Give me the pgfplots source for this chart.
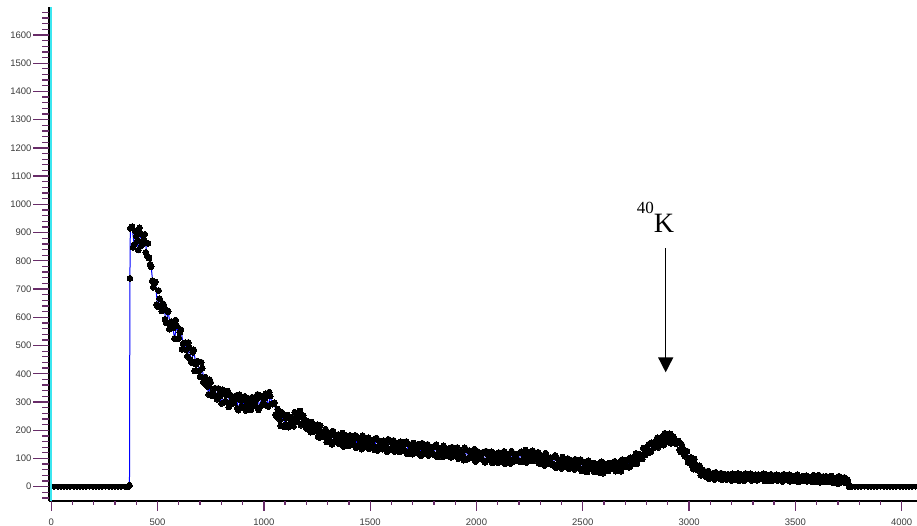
\documentclass[border=0pt]{standalone}
\usepackage{pgfplots}
\pgfplotsset{compat=1.18}
\usepackage{fontspec}
\setmainfont{Liberation Sans}
\newfontfamily\timesfont{Liberation Serif}
\usetikzlibrary{arrows.meta}
\definecolor{tickpurple}{RGB}{104,44,104}
\definecolor{axcyan}{RGB}{60,230,240}
\definecolor{lblgray}{RGB}{60,60,60}
\pgfplotstableread{
x y
0 0
15 0
30 0
45 0
60 0
75 0
90 0
105 0
120 0
135 0
150 0
165 0
180 0
195 0
210 0
225 0
240 0
255 0
270 0
285 0
300 0
315 0
330 0
345 0
360 0
}\zeroleft
\pgfplotstableread{
x y
3752 0
3765 0
3780 0
3795 0
3810 0
3825 0
3840 0
3855 0
3870 0
3885 0
3900 0
3915 0
3930 0
3945 0
3960 0
3975 0
3990 0
4005 0
4020 0
4035 0
4050 0
4065 0
4080 0
}\zeroright
\pgfplotstableread{
x y
360 0
368 5
370 738
372 915
380 921
390 858
400 888
410 838
420 896
430 864
440 894
450 818
460 810
470 779
480 706
490 725
500 638
510 666
520 622
530 643
540 580
550 620
560 570
570 573
580 525
590 571
600 526
610 556
620 506
630 510
640 462
650 493
660 439
670 485
680 433
690 444
700 389
710 420
720 366
730 373
740 327
750 369
760 332
770 349
780 310
790 328
800 295
810 334
820 303
830 339
840 291
850 313
860 297
870 323
880 271
890 308
900 281
910 320
920 292
930 312
940 273
950 301
960 286
970 327
980 281
990 317
1000 297
1010 329
1020 284
1030 321
1040 292
1050 297
1060 248
1070 258
1080 215
1090 255
1100 219
1110 254
1120 221
1130 240
1140 214
1150 255
1160 243
1170 268
1180 223
1190 237
1200 206
1210 228
1220 193
1230 218
1240 197
1250 219
1260 174
1270 196
1280 177
1290 204
1300 173
1310 190
1320 150
1330 182
1340 158
1350 185
1360 160
1370 190
1380 148
1390 166
1400 144
1410 174
1420 151
1430 182
1440 145
1450 165
1460 133
1470 170
1480 150
1490 173
1500 141
1510 161
1520 131
1530 172
1540 143
1550 162
1560 133
1570 151
1580 124
1590 161
1600 136
1610 164
1620 139
1630 153
1640 123
1650 147
1660 128
1670 160
1680 124
1690 145
1700 115
1710 147
1720 127
1730 151
1740 110
1750 136
1760 118
1770 150
1780 126
1790 140
1800 113
1810 149
1820 117
1830 133
1840 105
1850 139
1860 121
1870 135
1880 104
1890 130
1900 109
1910 139
1920 111
1930 121
1940 94
1950 133
1960 101
1970 124
1980 108
1990 133
2000 95
2010 116
2020 99
2030 122
2040 86
2050 117
2060 103
2070 124
2080 91
2090 107
2100 85
2110 116
2120 96
2130 125
2140 92
2150 113
2160 82
2170 119
2180 101
2190 116
2200 90
2210 124
2220 98
2230 130
2240 96
2250 117
2260 91
2270 120
2280 98
2290 122
2300 89
2310 102
2320 75
2330 110
2340 90
2350 103
2360 76
2370 111
2380 79
2390 93
2400 65
2410 97
2420 81
2430 100
2440 68
2450 89
2460 61
2470 82
2480 68
2490 96
2500 65
2510 86
2520 52
2530 77
2540 63
2550 84
2560 56
2570 76
2580 50
2590 88
2600 64
2610 79
2620 56
2630 74
2640 63
2650 90
2660 63
2670 86
2680 55
2690 82
2700 72
2710 95
2720 69
2730 97
2740 81
2750 118
2760 96
2770 114
2780 98
2790 134
2800 124
2810 150
2820 125
2830 153
2840 140
2850 173
2860 153
2870 175
2880 147
2890 180
2900 164
2910 187
2920 156
2930 169
2940 152
2950 162
2960 123
2970 137
2980 108
2990 126
3000 94
3010 103
3020 62
3030 78
3040 58
3050 74
3060 45
3070 55
3080 35
3090 55
3100 36
3110 47
3120 25
3130 42
3140 30
3150 48
3160 32
3170 44
3180 26
3190 38
3200 22
3210 44
3220 29
3230 47
3240 26
3250 37
3260 21
3270 40
3280 30
3290 46
3300 27
3310 42
3320 23
3330 38
3340 30
3350 46
3360 24
3370 37
3380 20
3390 41
3400 27
3410 42
3420 24
3430 35
3440 18
3450 38
3460 27
3470 43
3480 24
3490 38
3500 20
3510 43
3520 27
3530 35
3540 20
3550 39
3560 24
3570 33
3580 17
3590 37
3600 21
3610 41
3620 25
3630 36
3640 17
3650 32
3660 18
3670 38
3680 21
3690 31
3700 11
3710 33
3720 18
3730 33
3740 19
3748 10
3752 0
}\spectrum
\pgfplotstableread{
x y
385 848
395 905
405 871
415 917
425 854
435 877
445 830
455 862
465 788
475 729
485 719
495 645
505 695
515 637
525 649
535 593
545 624
555 558
565 585
575 562
585 590
595 524
605 547
615 487
625 509
635 485
645 511
655 450
665 476
675 410
685 442
695 411
705 441
715 370
725 388
735 355
745 379
755 322
765 346
775 319
785 348
795 320
805 344
815 299
825 324
835 282
845 324
855 296
865 308
875 278
885 326
895 285
905 309
915 270
925 298
935 278
945 317
955 290
965 309
975 272
985 322
995 290
1005 314
1015 286
1025 335
1035 293
1045 295
1055 256
1065 275
1075 237
1085 263
1095 213
1105 242
1115 211
1125 246
1135 232
1145 264
1155 229
1165 247
1175 218
1185 252
1195 218
1205 232
1215 202
1225 229
1235 196
1245 209
1255 179
1265 216
1275 184
1285 195
1295 158
1305 182
1315 161
1325 197
1335 161
1345 181
1355 151
1365 174
1375 142
1385 182
1395 162
1405 182
1415 150
1425 171
1435 138
1445 173
1455 151
1465 181
1475 142
1485 160
1495 135
1505 165
1515 143
1525 171
1535 128
1545 157
1555 136
1565 163
1575 143
1585 168
1595 131
1605 154
1615 124
1625 147
1635 131
1645 159
1655 133
1665 150
1675 116
1685 150
1695 127
1705 155
1715 121
1725 141
1735 115
1745 154
1755 128
1765 144
1775 110
1785 134
1795 118
1805 143
1815 105
1825 135
1835 119
1845 145
1855 109
1865 125
1875 109
1885 140
1895 112
1905 131
1915 99
1925 125
1935 113
1945 138
1955 97
1965 127
1975 102
1985 116
1995 89
2005 125
2015 102
2025 117
2035 92
2045 126
2055 95
2065 107
2075 84
2085 117
2095 99
2105 121
2115 90
2125 110
2135 81
2145 114
2155 95
2165 126
2175 89
2185 109
2195 94
2205 120
2215 88
2225 116
2235 86
2245 122
2255 103
2265 127
2275 94
2285 112
2295 82
2305 111
2315 94
2325 119
2335 80
2345 98
2355 81
2365 106
2375 67
2385 97
2395 79
2405 105
2415 71
2425 85
2435 64
2445 94
2455 71
2465 97
2475 74
2485 86
2495 56
2505 85
2515 62
2525 92
2535 65
2545 75
2555 52
2565 80
2575 60
2585 86
2595 48
2605 72
2615 59
2625 84
2635 67
2645 80
2655 55
2665 84
2675 63
2685 96
2695 71
2705 86
2715 69
2725 103
2735 83
2745 108
2755 81
2765 115
2775 109
2785 137
2795 113
2805 135
2815 121
2825 156
2835 140
2845 163
2855 139
2865 167
2875 153
2885 189
2895 161
2905 180
2915 154
2925 178
2935 154
2945 156
2955 130
2965 150
2975 116
2985 123
2995 86
3005 102
3015 75
3025 98
3035 66
3045 70
3055 40
3065 59
3075 41
3085 54
3095 28
3105 44
3115 31
3125 51
3135 32
3145 42
3155 24
3165 38
3175 26
3185 44
3195 30
3205 46
3215 24
3225 39
3235 21
3245 42
3255 31
3265 47
3275 28
3285 38
3295 22
3305 41
3315 26
3325 43
3335 28
3345 36
3355 20
3365 42
3375 29
3385 44
3395 23
3405 37
3415 22
3425 40
3435 29
3445 44
3455 24
3465 35
3475 19
3485 38
3495 22
3505 40
3515 17
3525 33
3535 25
3545 38
3555 19
3565 34
3575 25
3585 41
3595 19
3605 35
3615 15
3625 31
3635 20
3645 37
3655 22
3665 34
3675 14
3685 29
3695 19
3705 37
3715 15
3725 28
3735 13
3745 25
}\spectrumb
\begin{document}
\begin{tikzpicture}
\path[use as bounding box] (-48.9pt,-25.2pt) rectangle (868.1pt,500.8pt);
\pgfplotsset{common/.style={at={(0pt,0pt)}, anchor=south west, scale only axis,
  width=868.1pt, height=493.5pt, xmin=-11, xmax=4072, ymin=-50, ymax=1698,
  tick align=outside, major tick length=0pt, minor tick length=0pt,
  tick style={draw=none},
  ticklabel style={font=\fontsize{9.5}{10}\selectfont, text=lblgray},
  /pgf/number format/assume math mode=true, /pgf/number format/1000 sep={},
  axis line style={-}}}
\begin{axis}[common, axis x line=bottom, axis y line=none,
  x axis line style={-, black, line width=2pt},
  xtick={0,500,...,4000}, ytick=\empty,
  xticklabel style={anchor=north, inner sep=0pt, yshift=-17.7pt}]
\addplot[blue, line width=1pt, mark=*, mark size=2.5pt,
  mark options={black, fill=black, line width=0pt}] table[x=x, y=y] {\zeroleft};
\addplot[blue, line width=1pt, mark=*, mark size=2.9pt,
  mark options={black, fill=black, line width=0pt}] table[x=x, y=y] {\spectrum};
\addplot[only marks, mark=*, mark size=2.9pt,
  mark options={black, fill=black, line width=0pt}] table[x=x, y=y] {\spectrumb};
\addplot[blue, line width=1pt, mark=*, mark size=2.5pt,
  mark options={black, fill=black, line width=0pt}] table[x=x, y=y] {\zeroright};
\draw[-{Triangle[width=15pt,length=15pt]}, line width=1.5pt, black]
  (axis cs:2890,845) -- (axis cs:2890,405);
\node[anchor=base west, inner sep=0pt, font=\timesfont] at (axis cs:2753,901)
  {\raisebox{19.3pt}{\fontsize{17}{17}\selectfont 40}\fontsize{28}{28}\selectfont K};
\end{axis}
\begin{axis}[common, clip=false, axis x line=none, axis y line=left,
  y axis line style={-, black, line width=2.3pt},
  xtick=\empty, ytick={0,100,...,1600},
  yticklabel style={anchor=east, inner sep=0pt, xshift=-17.2pt}]
\draw[axcyan, line width=2.3pt] ([xshift=2.3pt]rel axis cs:0,0) -- ([xshift=2.3pt]rel axis cs:0,1);
\pgfplotsinvokeforeach{0,100,...,4000}{
  \draw[tickpurple, line width=1.3pt] (axis cs:#1,-50) -- ++(0pt,-4pt);}
\pgfplotsinvokeforeach{0,500,...,4000}{
  \draw[tickpurple, line width=1.3pt] (axis cs:#1,-50) -- ++(0pt,-10.4pt);}
\pgfplotsinvokeforeach{-40,-20,...,1680}{
  \draw[tickpurple, line width=1.3pt] (axis cs:-11,#1) -- ++(-7pt,0pt);}
\pgfplotsinvokeforeach{0,100,...,1600}{
  \draw[tickpurple, line width=1.3pt] (axis cs:-11,#1) -- ++(-16pt,0pt);}
\end{axis}
\end{tikzpicture}
\end{document}
